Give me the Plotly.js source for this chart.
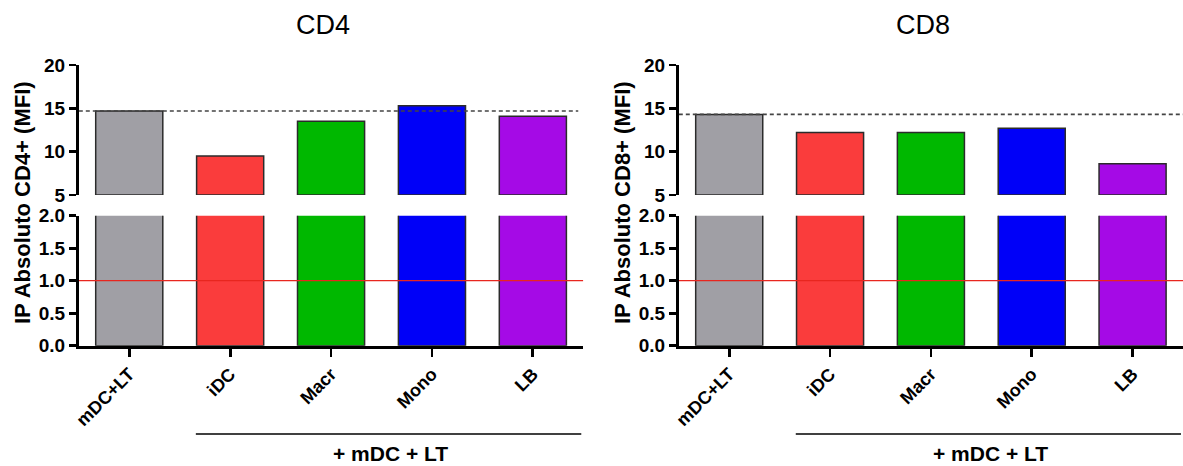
<!DOCTYPE html>
<html>
<head>
<meta charset="utf-8">
<script src="https://cdn.plot.ly/plotly-3.0.1.min.js"></script>
<style>html,body{margin:0;padding:0;background:#fff;}#chart{width:1183px;height:466px;}</style>
</head>
<body>
<div id="chart"></div>
<script>
// ---- data ----
const categories = ["mDC+LT", "iDC", "Macr", "Mono", "LB"];
const cd4Values = [14.7, 9.5, 13.5, 15.3, 14.1];
const cd8Values = [14.3, 12.2, 12.2, 12.7, 8.6];
const barColors = ["#a09fa5", "#fa3c3c", "#00b800", "#0000f8", "#a50ae6"];
const panelTitles = ["CD4", "CD8"];
const yTitles = ["IP Absoluto CD4+ (MFI)", "IP Absoluto CD8+ (MFI)"];
const groupLabel = "+ mDC + LT";
const topTicks = [5, 10, 15, 20];
const bottomTicks = [0, 0.5, 1.0, 1.5, 2.0];
const refLineValue = 1.0;
const topBase = 5;

// ---- layout helpers ----
const W = 1183, H = 466;
const fx = px => px / W;
const fy = py => 1 - py / H;
const FONT = "Liberation Sans, Arial, sans-serif";

function barTrace(values, xa, ya, base) {
  return {
    type: "bar", x: categories,
    y: base === undefined ? values : values.map(v => v - base),
    base: base,
    xaxis: xa, yaxis: ya,
    marker: { color: barColors, line: { color: "#2b2b2b", width: 1.5 } },
    hoverinfo: "skip",
    showlegend: false
  };
}

const data = [
  barTrace(cd4Values, "x", "y", topBase),
  barTrace(cd4Values, "x", "y2"),
  barTrace(cd8Values, "x2", "y3", topBase),
  barTrace(cd8Values, "x2", "y4")
];

const yTickFont = { family: FONT, size: 19, color: "#000", weight: "bold" };
const xTickFont = { family: FONT, size: 18, color: "#000", weight: "bold" };
const commonY = {
  showline: true, linecolor: "#000", linewidth: 2.8,
  ticks: "outside", ticklen: 7, tickwidth: 2.8, tickcolor: "#000",
  showgrid: false, zeroline: false, tickfont: yTickFont, fixedrange: true
};
const commonX = {
  type: "category", range: [-0.5, 4.5],
  showline: true, linecolor: "#000", linewidth: 2.8,
  ticks: "outside", ticklen: 8, tickwidth: 2.8, tickcolor: "#000",
  showgrid: false, zeroline: false, tickangle: -45,
  tickfont: xTickFont, fixedrange: true
};

const topDomain = [fy(195), fy(65)];
const botDomain = [fy(345.7), fy(215.7)];

const layout = {
  width: W, height: H,
  margin: { l: 0, r: 0, t: 0, b: 0 },
  paper_bgcolor: "#fff", plot_bgcolor: "rgba(0,0,0,0)",
  bargap: 0.335,
  showlegend: false,
  xaxis: Object.assign({}, commonX, { domain: [fx(78.8), fx(583.3)], anchor: "y2" }),
  xaxis2: Object.assign({}, commonX, { domain: [fx(678.8), 1], anchor: "y4" }),
  yaxis: Object.assign({}, commonY, { domain: topDomain, range: [5, 20], tickvals: topTicks, anchor: "x" }),
  yaxis2: Object.assign({}, commonY, { domain: botDomain, range: [0, 2], tickvals: bottomTicks, tickformat: ".1f", anchor: "x" }),
  yaxis3: Object.assign({}, commonY, { domain: topDomain, range: [5, 20], tickvals: topTicks, anchor: "x2" }),
  yaxis4: Object.assign({}, commonY, { domain: botDomain, range: [0, 2], tickvals: bottomTicks, tickformat: ".1f", anchor: "x2" }),
  shapes: [],
  annotations: []
};

const panels = [
  { xa: "x", ytop: "y", ybot: "y2", vals: cd4Values, offset: 0, xEnd: 4.45 },
  { xa: "x2", ytop: "y3", ybot: "y4", vals: cd8Values, offset: 600, xEnd: 4.5 }
];

panels.forEach((p, i) => {
  // dashed reference at first bar's value
  layout.shapes.push({
    type: "line", xref: p.xa, yref: p.ytop, x0: -0.5, x1: p.xEnd,
    y0: p.vals[0], y1: p.vals[0], layer: "above",
    line: { color: "#444", width: 1.6, dash: "4px,3px" }
  });
  // red line at 1.0
  layout.shapes.push({
    type: "line", xref: p.xa, yref: p.ybot, x0: -0.5, x1: 4.5,
    y0: refLineValue, y1: refLineValue, layer: "above",
    line: { color: "#e8261f", width: 1.3 }
  });
  // group underline
  layout.shapes.push({
    type: "line", xref: p.xa, yref: "paper", x0: 0.66, x1: 4.48,
    y0: fy(434), y1: fy(434),
    line: { color: "#000", width: 1.5 }
  });
  layout.annotations.push({
    text: groupLabel, xref: p.xa, yref: "paper", x: 2.59, y: fy(453),
    showarrow: false, xanchor: "center", yanchor: "middle",
    font: { family: FONT, size: 21, color: "#000", weight: "bold" }
  });
  // panel title
  layout.annotations.push({
    text: panelTitles[i], xref: "paper", yref: "paper",
    x: fx(323 + p.offset), y: fy(25), showarrow: false,
    xanchor: "center", yanchor: "middle",
    font: { family: FONT, size: 27, color: "#000" }
  });
  // y title
  layout.annotations.push({
    text: yTitles[i], xref: "paper", yref: "paper",
    x: fx(22 + p.offset), y: fy(203), showarrow: false, textangle: -90,
    xanchor: "center", yanchor: "middle",
    font: { family: FONT, size: 22, color: "#000", weight: "bold" }
  });
});

Plotly.newPlot("chart", data, layout, { displayModeBar: false, staticPlot: true });
</script>
</body>
</html>
